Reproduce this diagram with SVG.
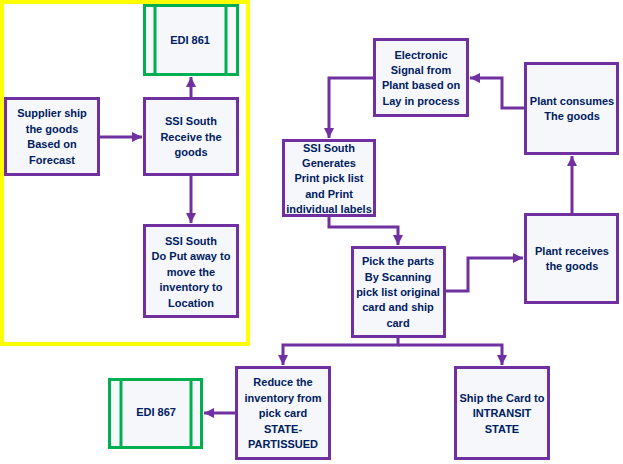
<svg xmlns="http://www.w3.org/2000/svg" width="623" height="464" viewBox="0 0 623 464">
<defs>
<marker id="ah" markerUnits="userSpaceOnUse" markerWidth="11" markerHeight="11" refX="10" refY="5" orient="auto">
<path d="M0,0 L10,5 L0,10 z" fill="#7030A0"/>
</marker>
<style>
.box{fill:#f5f7fb;stroke:#7030A0;stroke-width:3}
.edi{fill:#f5f7fb;stroke:#00B050;stroke-width:3}
.edil{stroke:#00B050;stroke-width:3}
.t{font-family:"Liberation Sans",Arial,sans-serif;font-size:11px;font-weight:bold;fill:#002060;text-anchor:middle}
.c{fill:none;stroke:#7030A0;stroke-width:3;marker-end:url(#ah)}
</style>
</defs>
<rect width="623" height="464" fill="#ffffff"/>
<rect x="2" y="2" width="246" height="342" fill="none" stroke="#FFFF00" stroke-width="4"/>

<g id="connectors">
<path class="c" d="M100,137 H142"/>
<path class="c" d="M191,97 V77"/>
<path class="c" d="M191,176 V223"/>
<path class="c" d="M373,78 H329 V138"/>
<path class="c" d="M524,108 H502 V78 H470"/>
<path class="c" d="M572,213 V156"/>
<path class="c" d="M329,217 V227 H398 V245"/>
<path class="c" d="M446,291 H468 V258 H523"/>
<path class="c" d="M398,338 V345 H283 V365"/>
<path class="c" d="M398,345 H502 V365"/>
<path class="c" d="M235,413 H204"/>
</g>

<g id="edi861">
<rect class="edi" x="144.5" y="5.5" width="93" height="69"/>
<line class="edil" x1="155" y1="5" x2="155" y2="75"/>
<line class="edil" x1="226" y1="5" x2="226" y2="75"/>
<text class="t" x="190" y="44">EDI 861</text>
</g>

<g id="supplier">
<rect class="box" x="5.5" y="98.5" width="93" height="76"/>
<text class="t" x="52" y="117">Supplier ship</text>
<text class="t" x="52" y="133">the goods</text>
<text class="t" x="52" y="148">Based on</text>
<text class="t" x="52" y="164">Forecast</text>
</g>

<g id="ssiReceive">
<rect class="box" x="144.5" y="98.5" width="93" height="76"/>
<text class="t" x="191" y="125">SSI South</text>
<text class="t" x="191" y="141">Receive the</text>
<text class="t" x="191" y="156">goods</text>
</g>

<g id="putaway">
<rect class="box" x="144.5" y="225.5" width="93" height="91"/>
<text class="t" x="191" y="245">SSI South</text>
<text class="t" x="191" y="260">Do  Put away to</text>
<text class="t" x="191" y="276">move the</text>
<text class="t" x="191" y="291">inventory to</text>
<text class="t" x="191" y="307">Location</text>
</g>

<g id="electronic">
<rect class="box" x="374.5" y="39.5" width="93" height="76"/>
<text class="t" x="421" y="59">Electronic</text>
<text class="t" x="421" y="74">Signal from</text>
<text class="t" x="421" y="89">Plant based on</text>
<text class="t" x="421" y="105">Lay in process</text>
</g>

<g id="consumes">
<rect class="box" x="525.5" y="63.5" width="92" height="90"/>
<text class="t" x="572" y="105">Plant consumes</text>
<text class="t" x="572" y="120">The goods</text>
</g>

<g id="ssiGenerates">
<rect class="box" x="283.5" y="140.5" width="91" height="75"/>
<text class="t" x="329" y="152">SSI South</text>
<text class="t" x="329" y="167">Generates</text>
<text class="t" x="329" y="182">Print pick list</text>
<text class="t" x="329" y="198">and Print</text>
<text class="t" x="329" y="213">individual labels</text>
</g>

<g id="pick">
<rect class="box" x="352.5" y="247.5" width="92" height="89"/>
<text class="t" x="398" y="265">Pick the parts</text>
<text class="t" x="398" y="281">By Scanning</text>
<text class="t" x="398" y="296">pick list original</text>
<text class="t" x="398" y="311">card and ship</text>
<text class="t" x="398" y="327">card</text>
</g>

<g id="receives">
<rect class="box" x="525.5" y="214.5" width="92" height="88"/>
<text class="t" x="572" y="255">Plant receives</text>
<text class="t" x="572" y="270">the goods</text>
</g>

<g id="reduce">
<rect class="box" x="236.5" y="367.5" width="93" height="91"/>
<text class="t" x="283" y="386">Reduce the</text>
<text class="t" x="283" y="402">inventory from</text>
<text class="t" x="283" y="417">pick card</text>
<text class="t" x="283" y="433">STATE-</text>
<text class="t" x="283" y="448">PARTISSUED</text>
</g>

<g id="edi867">
<rect class="edi" x="109.5" y="379.5" width="92" height="68"/>
<line class="edil" x1="121" y1="379" x2="121" y2="448"/>
<line class="edil" x1="191" y1="379" x2="191" y2="448"/>
<text class="t" x="156" y="416">EDI 867</text>
</g>

<g id="ship">
<rect class="box" x="455.5" y="367.5" width="93" height="91"/>
<text class="t" x="502" y="402">Ship the Card to</text>
<text class="t" x="502" y="417">INTRANSIT</text>
<text class="t" x="502" y="433">STATE</text>
</g>
</svg>
